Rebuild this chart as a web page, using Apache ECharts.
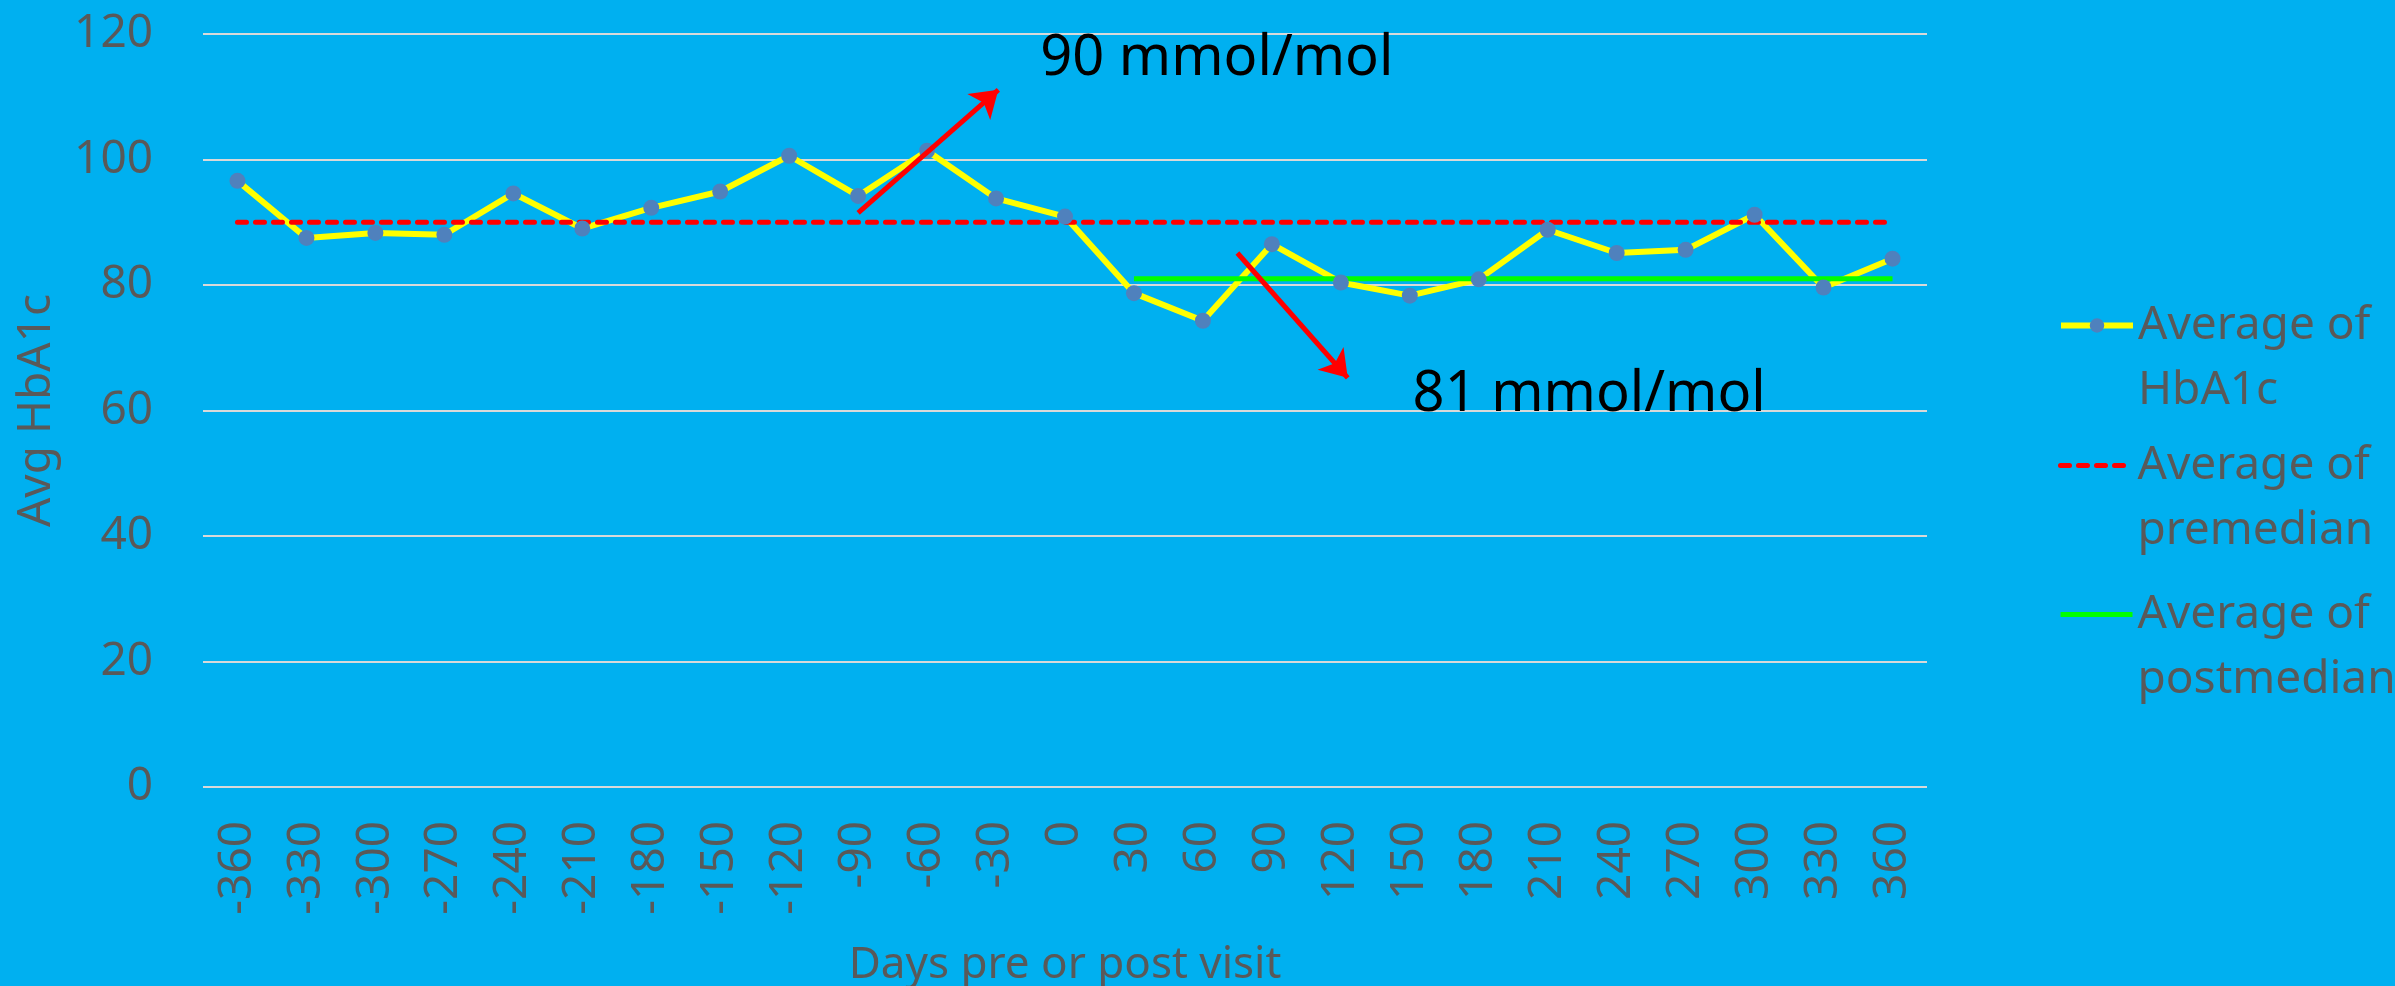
<!DOCTYPE html>
<html>
<head>
<meta charset="utf-8">
<title>Avg HbA1c</title>
<script src="https://cdn.jsdelivr.net/npm/echarts@6/dist/echarts.min.js"></script>
<style>
html,body{margin:0;padding:0;background:#00B0F0;}
#chart{width:2395px;height:986px;}
</style>
</head>
<body>
<div id="chart"></div>
<script>
var days = ['-360','-330','-300','-270','-240','-210','-180','-150','-120','-90','-60','-30','0',
    '30','60','90','120','150','180','210','240','270','300','330','360'];
var hba1c = [96.6,87.5,88.3,88.0,94.6,89.0,92.3,94.9,100.6,94.2,101.4,93.8,90.9,
    78.7,74.3,86.5,80.4,78.3,80.9,88.8,85.1,85.6,91.2,79.6,84.2];
var premedian = [90,90,90,90,90,90,90,90,90,90,90,90,90,
    90,90,90,90,90,90,90,90,90,90,90,90];
var postmedian = [null,null,null,null,null,null,null,null,null,null,null,null,null,
    81,81,81,81,81,81,81,81,81,81,81,81];
var yTicks = [0,20,40,60,80,100,120];
// arrows in days / value
var arrows = [[[-90,91.5],[-29,111.1]], [[75,85.1],[123,65.2]]];
var notes = [['90 mmol/mol',-11,116.0], ['81 mmol/mol',151,62.5]];

var grey = '#595959';
var font = 'Noto Sans';

// one legend per series so the icon sits on the first text line
function legendOf(name, top, line, dot){
    return {
        data: [name],
        left: 2058,
        top: top,
        padding: 0,
        itemWidth: 72,
        itemHeight: 18,
        selectedMode: false,
        lineStyle: line,
        itemStyle: dot,
        formatter: function(n){ return ' \n' + n.replace(' of ', ' of\n'); },
        textStyle: {
            color: grey, fontSize: 46, fontFamily: font, lineHeight: 65
        }
    };
}

function init(){
    var chart = echarts.init(document.getElementById('chart'));
    var none = { color: 'rgba(0,0,0,0)', borderWidth: 0 };
    var option = {
        backgroundColor: '#00B0F0',
        animation: false,
        textStyle: { fontFamily: font },
        grid: { left: 203, right: 468, top: 34, bottom: 199, outerBoundsMode: 'none' },
        legend: [
            legendOf('Average of HbA1c', 228, { color: '#FFFF00', width: 6, type: 'solid' }, { color: '#4F81BD', borderWidth: 0 }),
            legendOf('Average of premedian', 368, { color: '#FF0000', width: 5, type: [9, 9], cap: 'round' }, none),
            legendOf('Average of postmedian', 517, { color: '#00FF00', width: 5, type: 'solid' }, none)
        ],
        xAxis: [
            {
                type: 'category',
                data: days,
                name: 'Days pre or post visit',
                nameLocation: 'middle',
                nameGap: 156,
                nameTextStyle: { color: grey, fontSize: 44, fontFamily: font },
                axisLine: { show: false },
                axisTick: { show: false },
                axisLabel: { rotate: 90, interval: 0, margin: 34, color: grey, fontSize: 46, fontFamily: font }
            },
            { type: 'value', min: -375, max: 375, show: false }
        ],
        yAxis: {
            type: 'value',
            min: yTicks[0],
            max: yTicks[yTicks.length - 1],
            interval: 20,
            name: 'Avg HbA1c',
            nameLocation: 'middle',
            nameGap: 143,
            nameTextStyle: { color: grey, fontSize: 46, fontFamily: font },
            axisLine: { show: false },
            axisTick: { show: false },
            axisLabel: { margin: 50, color: grey, fontSize: 46, fontFamily: font },
            splitLine: { lineStyle: { color: '#D9D9D9', width: 2 } }
        },
        series: [
            {
                name: 'Average of HbA1c',
                type: 'line',
                data: hba1c,
                symbol: 'circle',
                symbolSize: 16,
                lineStyle: { color: '#FFFF00', width: 6 },
                itemStyle: { color: '#4F81BD' }
            },
            {
                name: 'Average of premedian',
                type: 'line',
                data: premedian,
                symbol: 'none',
                lineStyle: { color: '#FF0000', width: 5, type: [9, 9], cap: 'round' },
                itemStyle: { color: '#FF0000' }
            },
            {
                name: 'Average of postmedian',
                type: 'line',
                data: postmedian,
                symbol: 'none',
                lineStyle: { color: '#00FF00', width: 5 },
                itemStyle: { color: '#00FF00' }
            },
            {
                name: 'notes',
                type: 'line',
                xAxisIndex: 1,
                data: [],
                silent: true,
                markLine: {
                    silent: true,
                    symbol: ['none', 'arrow'],
                    symbolSize: 26,
                    label: { show: false },
                    lineStyle: { color: '#FF0000', width: 5, type: 'solid' },
                    data: arrows.map(function(a){
                        return [{ coord: a[0] }, { coord: a[1] }];
                    })
                },
                markPoint: {
                    silent: true,
                    symbol: 'circle',
                    symbolSize: 1,
                    itemStyle: { color: 'rgba(0,0,0,0)' },
                    label: {
                        show: true, position: 'right', distance: 0,
                        color: '#000', fontSize: 56, fontFamily: font,
                        formatter: function(p){ return p.name; }
                    },
                    data: notes.map(function(n){
                        return { name: n[0], coord: [n[1], n[2]] };
                    })
                }
            }
        ]
    };
    chart.setOption(option);
}
window.onload = function(){
    init();
};
</script>
</body>
</html>
